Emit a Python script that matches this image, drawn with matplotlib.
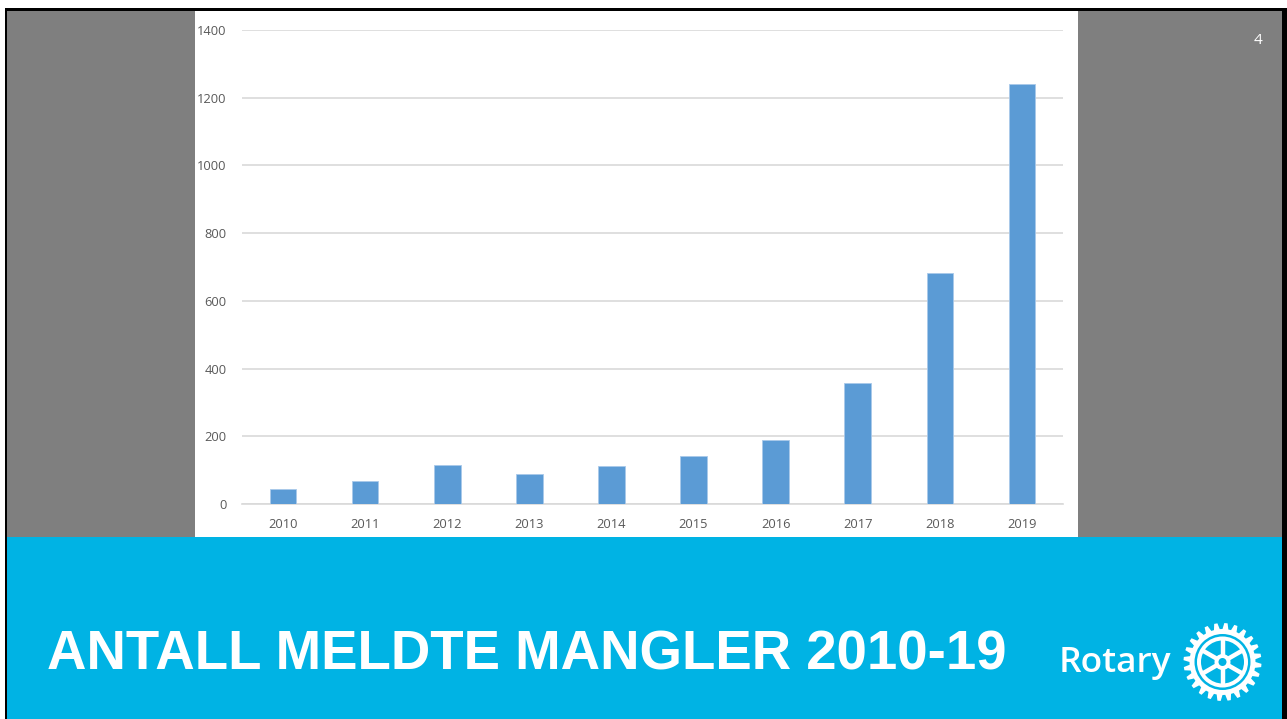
import numpy as np
import matplotlib
matplotlib.use("Agg")
import matplotlib.pyplot as plt
from matplotlib.patches import Rectangle, Circle, Polygon

# data
years = ["2010", "2011", "2012", "2013", "2014", "2015", "2016", "2017", "2018", "2019"]
counts = [44, 67, 115, 90, 111, 142, 189, 358, 682, 1240]
y_ticks = [0, 200, 400, 600, 800, 1000, 1200, 1400]

title = "ANTALL MELDTE MANGLER 2010-19"
page_no = "4"

W, H = 1287, 719
fig = plt.figure(figsize=(W / 100, H / 100), dpi=100, facecolor="white")

# background layer in pixel coordinates
bg = fig.add_axes([0, 0, 1, 1])
bg.set_xlim(0, W)
bg.set_ylim(H, 0)
bg.axis("off")

bg.add_patch(Rectangle((5, 8), W - 5, H - 8, facecolor="black", edgecolor="none"))
bg.add_patch(Rectangle((7, 11), 1275, 526, facecolor="#7f7f7f", edgecolor="none"))
bg.add_patch(Rectangle((7, 537), 1275, H - 537, facecolor="#00b3e4", edgecolor="none"))
bg.add_patch(Rectangle((195, 11), 883, 526, facecolor="white", edgecolor="none"))
bg.add_patch(Circle((1081, 257), 5, facecolor="#9a9a9a", edgecolor="none", zorder=0.5))
bg.add_patch(Rectangle((1078, 240), 10, 30, facecolor="#7f7f7f", edgecolor="none", zorder=0.6))

bg.text(1258, 41, page_no, color="white", fontsize=11, ha="center", va="center",
        family="Open Sans")
bg.text(47, 669, title, color="white", fontsize=39.3, fontweight="bold",
        family="Liberation Sans", ha="left", va="baseline")
bg.text(1059, 663, "Rotary", color="white", fontsize=25.5, fontweight="semibold",
        family="Open Sans", ha="left", va="center")

# Rotary wheel
cx, cy = 1222.5, 662
n_teeth = 24
pts = []
for i in range(n_teeth):
    a0 = 2 * np.pi * i / n_teeth
    step = 2 * np.pi / n_teeth
    for frac, r in [(0.0, 33), (0.18, 39), (0.5, 39), (0.68, 33)]:
        a = a0 + frac * step
        pts.append((cx + r * np.cos(a), cy + r * np.sin(a)))
bg.add_patch(Polygon(pts, closed=True, facecolor="white", edgecolor="none"))
bg.add_patch(Circle((cx, cy), 28, facecolor="#00b3e4", edgecolor="none"))
bg.add_patch(Circle((cx, cy), 25.5, facecolor="white", edgecolor="none"))
bg.add_patch(Circle((cx, cy), 21.5, facecolor="#00b3e4", edgecolor="none"))
for k in range(6):
    a = np.pi / 2 + k * np.pi / 3
    bg.plot([cx + 6 * np.cos(a), cx + 23 * np.cos(a)],
            [cy + 6 * np.sin(a), cy + 23 * np.sin(a)],
            color="white", lw=3.2, solid_capstyle="butt")
bg.add_patch(Circle((cx, cy), 8, facecolor="white", edgecolor="none", zorder=3))
bg.add_patch(Circle((cx, cy), 4, facecolor="#00b3e4", edgecolor="none", zorder=4))

# chart
left, right, top, bottom = 242, 1063, 30, 504
ax = fig.add_axes([left / W, (H - bottom) / H, (right - left) / W, (bottom - top) / H])
ax.set_facecolor("none")
x = np.arange(len(years))
ax.bar(x, counts, width=0.325, color="#5b9bd5", edgecolor="#a9c9ea", linewidth=0.6, zorder=3)
ax.set_xlim(-0.5, len(years) - 0.5)
ax.set_ylim(0, 1400)
ax.set_yticks(y_ticks)
ax.set_xticks(x)
ax.set_xticklabels(years)
ax.grid(axis="y", color="#d9d9d9", linewidth=1.2, zorder=0)
ax.tick_params(length=0, labelsize=9.3, labelcolor="#595959")
ax.tick_params(axis="y", pad=11)
ax.tick_params(axis="x", pad=10)
for lab in ax.get_xticklabels() + ax.get_yticklabels():
    lab.set_family("Open Sans")
for s in ["top", "left", "right"]:
    ax.spines[s].set_visible(False)
ax.spines["bottom"].set_color("#d9d9d9")
ax.spines["bottom"].set_linewidth(1.2)

fig.savefig("out.png", dpi=100, facecolor="white")
